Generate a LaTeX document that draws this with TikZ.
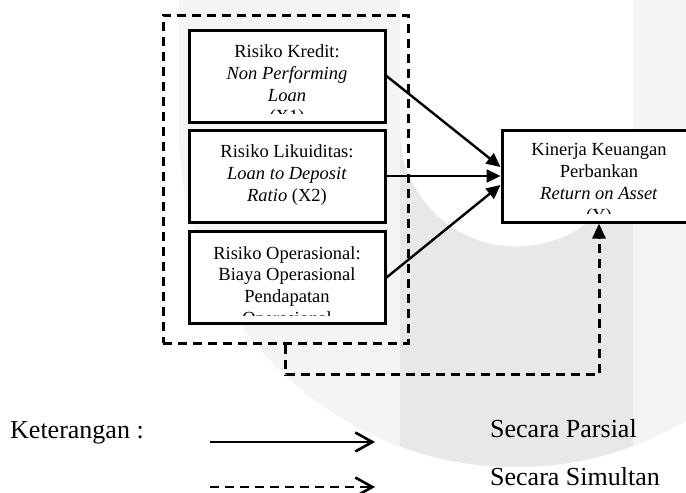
\documentclass[tikz,border=0pt]{standalone}
\usepackage{fontspec}
\setmainfont{Liberation Serif}
\usetikzlibrary{positioning, arrows.meta}
\definecolor{MarkLight}{HTML}{F4F4F4}
\definecolor{MarkDark}{HTML}{E8E8E8}

\tikzset{
  riskbox/.style={draw, line width=3pt, fill=white, minimum width=196pt, minimum height=92pt, inner sep=0pt},
  boxtext/.style={align=center, inner sep=0pt, anchor=north, font=\fontsize{18.5}{21.8}\selectfont},
  grouprect/.style={draw, line width=3pt, dash pattern=on 9pt off 6pt, minimum width=245pt, minimum height=328pt, inner sep=0pt},
  partial/.style={line width=2.4pt, -{Triangle[length=14pt, width=13pt]}},
  simultan/.style={line width=3pt, dash pattern=on 9pt off 6pt, -{Triangle[length=15pt, width=13pt]}},
  legendtext/.style={anchor=base west, inner sep=0pt, font=\fontsize{26}{30}\selectfont},
}

\begin{document}
\begin{tikzpicture}[x=1pt, y=-1pt]
      \useasboundingbox (0,0) rectangle (686,493);
      \fill[white] (0,0) rectangle (686,493);

      % --- Watermark ---
      % Light U shape, darker stem, white inner U on top.
      \fill[MarkLight] (179,0) rectangle (853,130);
      \fill[MarkLight] (516,130) circle[radius=337pt];
      \begin{scope}
          \clip (516,130) circle[radius=337pt];
          \fill[MarkDark] (400,130) rectangle (633,493);
      \end{scope}
      \fill[white] (400,0) rectangle (633,130);
      \fill[white] (516.5,130) circle[radius=116.5pt];

      % --- Boxes ---
      \node[grouprect] (risiko) at (285.5,179) {};
      \node[riskbox] (kredit) at (287,76) {};
      \node[riskbox] (likuiditas) at (287,176) {};
      \node[riskbox] (operasional) at (287,277.5) {};
      \node[riskbox, minimum width=194pt] (kinerja) at (599,176) {};

      % --- Box Text ---
      % Each text is clipped by its box, as in the original text boxes.
      \begin{scope}
          \clip ([yshift=10pt]kredit.south west) rectangle (kredit.north east);
          \node[boxtext] (kreditT) at ([yshift=-16pt]kredit.north)
              {Risiko Kredit:\\ \textit{Non Performing}\\ \textit{Loan}\\ (X1)};
      \end{scope}
      \begin{scope}
          \clip ([yshift=10pt]likuiditas.south west) rectangle (likuiditas.north east);
          \node[boxtext] (likuiditasT) at ([yshift=-16pt]likuiditas.north)
              {Risiko Likuiditas:\\ \textit{Loan to Deposit}\\ \textit{Ratio} (X2)};
      \end{scope}
      \begin{scope}
          \clip ([yshift=10pt]operasional.south west) rectangle (operasional.north east);
          \node[boxtext] (operasionalT) at ([yshift=-16pt]operasional.north)
              {Risiko Operasional:\\ Biaya Operasional\\ Pendapatan\\ Operasional};
      \end{scope}
      \begin{scope}
          \clip ([yshift=10pt]kinerja.south west) rectangle (kinerja.north east);
          \node[boxtext] (kinerjaT) at ([yshift=-15pt]kinerja.north)
              {Kinerja Keuangan\\ Perbankan\\ \textit{Return on Asset}\\ (Y)};
      \end{scope}

      % --- Arrows ---
      \draw[partial] (kredit.east) -- ([yshift=9pt]kinerja.west);
      \draw[partial] (likuiditas.east) -- (kinerja.west);
      \draw[partial] (operasional.east) -- ([yshift=-9pt]kinerja.west);
      \draw[simultan] (risiko.south) -- ++(0,30) -| (kinerja.south);

      % --- Legend ---
      \node[legendtext] (keterangan) at (10,438) {Keterangan :};
      \coordinate (parsialA) at (210,442);
      \coordinate (parsialB) at (375,442);
      \coordinate (simultanA) at (210,487);
      \coordinate (simultanB) at (375,487);
      \draw[line width=2.6pt, -{Straight Barb[length=17pt, width=19pt]}] (parsialA) -- (parsialB);
      \draw[line width=2.6pt, dash pattern=on 9pt off 6pt, -{Straight Barb[length=17pt, width=19pt]}] (simultanA) -- (simultanB);
      \node[legendtext] (parsial) at (490,437) {Secara Parsial};
      \node[legendtext] (simultanT) at (490,485) {Secara Simultan};
\end{tikzpicture}
\end{document}
